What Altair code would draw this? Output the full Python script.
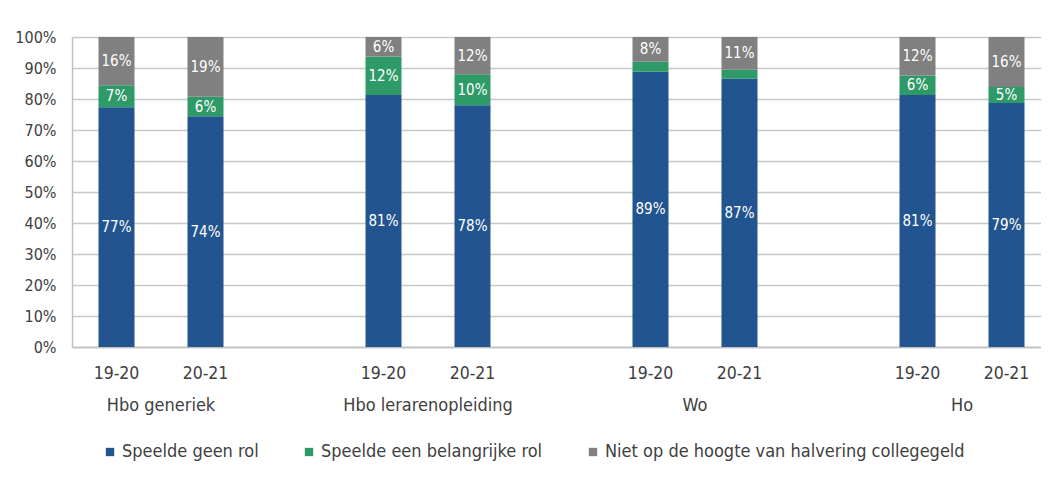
import altair as alt
import pandas as pd

groups = ["Hbo generiek", "Hbo lerarenopleiding", "Wo", "Ho"]
years = ["19-20", "20-21"]
series = ["Speelde geen rol", "Speelde een belangrijke rol",
          "Niet op de hoogte van halvering collegegeld"]
geen = [77.3, 74.4, 81.3, 78.0, 88.8, 86.5, 81.3, 78.7]
belangrijk = [7.1, 6.3, 12.4, 10.0, 3.2, 2.9, 6.3, 5.2]
niet = [15.6, 19.3, 6.3, 12.0, 8.0, 10.6, 12.4, 16.1]
colors = ["#22558F", "#2E9A68", "#808080"]
y_ticks = [0, 10, 20, 30, 40, 50, 60, 70, 80, 90, 100]

FONT = "DejaVu Sans Condensed, Liberation Sans Narrow, sans-serif"
TXT = "#404040"

# slots (with blank spacers between groups)
slots = []
for gi, g in enumerate(groups):
    for y in years:
        slots.append(f"{g}|{y}")
    if gi < len(groups) - 1:
        slots.append(f"gap{gi}")

rows = []
i = 0
for g in groups:
    for y in years:
        for si, (s, vals) in enumerate(zip(series, [geen, belangrijk, niet])):
            rows.append({"slot": f"{g}|{y}", "series": s, "order": si, "value": vals[i]})
        i += 1
df = pd.DataFrame(rows)

grp_df = pd.DataFrame({"slot": [f"{g}|{years[0]}" for g in groups], "label": groups})

W, H = 969, 310

xscale = alt.Scale(domain=slots, paddingInner=0, paddingOuter=0, range=[0, 979])
yscale = alt.Scale(domain=[0, 100], nice=False)

xaxis = alt.Axis(labelExpr="indexof(datum.value,'|') >= 0 ? split(datum.value,'|')[1] : ''",
                 labelAngle=0, ticks=False, domainColor="#BFBFBF", domainWidth=1.5,
                 labelFont=FONT, labelFontSize=17.5, labelColor=TXT, labelPadding=17)
yaxis = alt.Axis(values=y_ticks, tickCount=20, labelOverlap=False,
                 labelExpr="datum.value + '%'", ticks=False,
                 domainColor="#BFBFBF", domainWidth=1.5, gridColor="#C8C8C8", gridWidth=1.5,
                 labelFont=FONT, labelFontSize=16, labelColor=TXT, labelPadding=16)

base = alt.Chart(df).transform_stack(
    stack="value", groupby=["slot"], as_=["v0", "v1"],
    sort=[alt.SortField("order", order="ascending")]
).transform_calculate(
    mid="(datum.v0 + datum.v1) / 2",
    lab="format(datum.value, '.0f') + '%'"
)

bars = base.mark_bar(size=36).encode(
    x=alt.X("slot:N", scale=xscale, title=None, sort=slots, axis=xaxis),
    y=alt.Y("v0:Q", scale=yscale, title=None, axis=yaxis),
    y2="v1:Q",
    color=alt.Color("series:N", scale=alt.Scale(domain=series, range=colors),
                    legend=alt.Legend(orient="none", legendX=29, legendY=406, direction="horizontal",
                                      title=None, symbolType="square", symbolSize=70,
                                      symbolStrokeWidth=0, labelFont=FONT, labelFontSize=18,
                                      labelColor=TXT, columnPadding=41, labelOffset=3,
                                      labelLimit=600)),
)

labels = base.transform_filter("datum.value >= 4").mark_text(
    color="white", font=FONT, fontSize=15, baseline="middle"
).encode(
    x=alt.X("slot:N", scale=xscale, sort=slots, title=None, axis=xaxis),
    y=alt.Y("mid:Q", scale=yscale, title=None, axis=yaxis),
    text="lab:N",
)

grp = alt.Chart(grp_df).mark_text(
    font=FONT, fontSize=18, color=TXT, baseline="middle"
).encode(
    x=alt.X("slot:N", scale=xscale, sort=slots, bandPosition=1, title=None, axis=xaxis),
    y=alt.value(H + 59),
    text="label:N",
)

chart = alt.layer(bars, labels, grp).properties(
    width=W, height=H,
    padding={"left": 64, "top": 29, "right": 0, "bottom": 134},
    autosize=alt.AutoSizeParams(type="none"),
    background="white",
).configure_view(stroke=None)

chart.save("out.html", embed_options={"renderer": "svg", "actions": False})
